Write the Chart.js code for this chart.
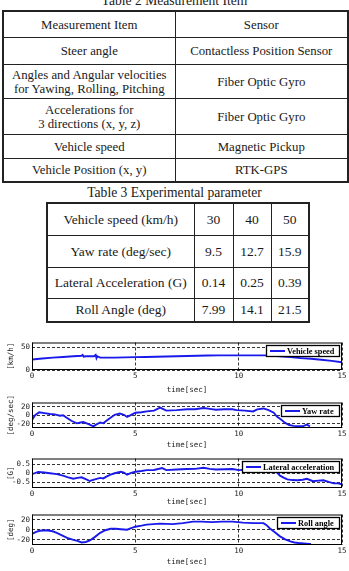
<!DOCTYPE html>
<html>
<head>
<meta charset="utf-8">
<script src="https://cdn.jsdelivr.net/npm/chart.js@4/dist/chart.umd.min.js"></script>
<style>
  body { margin: 0; width: 349px; height: 571px; overflow: hidden; background: #fff; position: relative;
         font-family: "Liberation Serif", "Times New Roman", serif; color: #1a1a1a; }
  .cap { position: absolute; left: 0; width: 349px; text-align: center; font-size: 13.6px; line-height: 14px; white-space: nowrap; }
  table { position: absolute; border-collapse: collapse; table-layout: fixed; }
  td { border: 1px solid #222; text-align: center; vertical-align: middle; padding: 0; white-space: pre-line; line-height: 14px; }
  #t2 { left: 2px; top: 10px; width: 345px; font-size: 12.8px; border: 2px solid #222; }
  #t2 tr:nth-child(1) td { height: 25px; }
  #t2 tr:nth-child(2) td { height: 26px; }
  #t2 tr:nth-child(3) td { height: 33px; }
  #t2 tr:nth-child(4) td { height: 35px; }
  #t2 tr:nth-child(5) td { height: 23px; }
  #t2 tr:nth-child(6) td { height: 22px; }
  #t3 { left: 46px; top: 202px; width: 262px; font-size: 13.5px; border: 2px solid #222; }
  #t3 tr:nth-child(1) td, #t3 tr:nth-child(2) td { height: 31px; }
  #t3 tr:nth-child(3) td { height: 30px; }
  #t3 tr:nth-child(4) td { height: 22px; }
  canvas { position: absolute; left: 0; }
</style>
</head>
<body>
<div class="cap" style="top:-6px">Table 2 Measurement Item</div>
<table id="t2"><colgroup><col style="width:172px"><col style="width:173px"></colgroup><tbody></tbody></table>
<div class="cap" style="top:186px">Table 3 Experimental parameter</div>
<table id="t3"><colgroup><col style="width:147px"><col style="width:39px"><col style="width:38px"><col style="width:38px"></colgroup><tbody></tbody></table>

<script>
// ---- table data ----
const table2Header = ['Measurement Item', 'Sensor'];
const table2Items = ['Steer angle', 'Angles and Angular velocities\nfor Yawing, Rolling, Pitching',
  'Accelerations for\n3 directions (x, y, z)', 'Vehicle speed', 'Vehicle Position (x, y)'];
const table2Sensors = ['Contactless Position Sensor', 'Fiber Optic Gyro', 'Fiber Optic Gyro',
  'Magnetic Pickup', 'RTK-GPS'];

const table3Params = ['Vehicle speed (km/h)', 'Yaw rate (deg/sec)', 'Lateral Acceleration (G)', 'Roll Angle (deg)'];
const table3Values = [['30', '40', '50'], ['9.5', '12.7', '15.9'], ['0.14', '0.25', '0.39'], ['7.99', '14.1', '21.5']];

// ---- chart data ----
const xTicks = [0, 5, 10, 15];

const speedTime = [0, 0.5, 1, 1.5, 2, 2.4, 2.45, 2.5, 2.6, 3, 3.08, 3.12, 3.16, 3.3, 4, 4.5, 5, 5.5, 6, 6.5, 7, 7.5, 8,
  8.5, 9, 9.5, 10, 10.5, 11, 11.4, 12, 12.5, 13, 13.5, 14, 14.5, 15];
const speedValue = [23, 25, 27, 28.5, 30, 31, 33, 29, 30, 30, 33, 26, 30, 27, 27, 27.5, 28, 28.5, 29, 29.5, 30, 30.5, 31,
  31.5, 32, 32, 32, 32, 32, 32, 30, 28, 26, 24.5, 22.5, 20, 17];

const yawTime = [0, 0.15, 0.35, 0.6, 0.87, 1.1, 1.35, 1.5, 1.68, 1.9, 2.17, 2.35, 2.48, 2.74, 2.97, 3.1, 3.3, 3.45, 3.6,
  3.8, 4.0, 4.25, 4.45, 4.6, 4.8, 5.0, 5.3, 5.55, 5.9, 6.2, 6.5, 7.0, 7.5, 7.9, 8.3, 8.6, 8.9, 9.3, 9.7, 9.9, 10.3,
  10.7, 10.9, 11.2, 11.45, 11.7, 11.85, 12.05, 12.25, 12.45, 12.65, 12.9, 13.1, 13.3, 13.45];
const yawValue = [-11, 0, 7, 5, 3, 2, -1, 0, -6, -13, -19, -17, -16, -21, -26, -22, -17, -19, -13,
  -6, 1, 4, 1, -4, 1, 6, 7, 9, 11, 18, 11, 12, 14, 14, 17, 15, 13, 14, 14, 12, 11,
  9, 14, 16, 12, 6, -3, -10, -18, -23, -25, -26, -26, -22, -26];

const latTime = [0, 0.3, 0.6, 0.87, 1.2, 1.5, 1.75, 2.0, 2.2, 2.4, 2.6, 2.8, 3.0, 3.3, 3.45, 3.6, 3.8, 4.0, 4.3, 4.45,
  4.6, 4.8, 5.0, 5.3, 5.55, 5.9, 6.3, 6.5, 7.0, 7.5, 7.9, 8.3, 8.6, 8.9, 9.3, 9.7, 10.0, 10.5, 11.0, 11.2, 11.5,
  11.7, 11.85, 12.0, 12.2, 12.35, 12.6, 12.85, 13.1, 13.3, 13.6, 13.85, 14.1, 14.35, 14.6, 14.8, 15];
const latValue = [-0.05, 0.07, 0.04, 0, -0.05, -0.13, -0.22, -0.3, -0.25, -0.22, -0.32, -0.42, -0.35, -0.25, -0.28,
  -0.18, -0.08, 0, 0.08, 0.03, -0.08, 0.02, 0.08, 0.12, 0.17, 0.18, 0.28, 0.17, 0.2, 0.23, 0.24, 0.3, 0.24, 0.2,
  0.22, 0.23, 0.17, 0.2, 0.22, 0.24, 0.2, 0.16, 0.05, -0.13, -0.25, -0.33, -0.37, -0.38, -0.35, -0.3, -0.43, -0.4,
  -0.38, -0.47, -0.55, -0.55, -0.6];

const rollTime = [0, 0.2, 0.37, 0.7, 1.0, 1.2, 1.45, 1.7, 2.0, 2.2, 2.4, 2.6, 2.8, 3.05, 3.3, 3.55, 3.8, 4.05, 4.3,
  4.6, 4.8, 5.0, 5.3, 5.55, 6.2, 6.8, 7.3, 7.8, 8.2, 8.7, 9.2, 9.7, 10.2, 10.7, 11.2, 11.35, 11.5, 11.75, 12.0,
  12.25, 12.5, 12.7, 12.9, 13.15, 13.4, 13.5];
const rollValue = [-8, -4, -2, -1, -3, -6, -11, -16, -20, -22, -25, -24, -21, -14, -6, -1, 2, 2, 1,
  0, 3, 6, 8, 10, 12, 11, 13, 16, 16, 15, 16, 16, 14, 13, 13, 9, 3, -5, -13,
  -19, -23, -25, -26, -27, -28, -28];

// ---- tables ----
const tb2 = document.querySelector('#t2 tbody');
[[table2Header[0], table2Header[1]]].concat(table2Items.map((it, i) => [it, table2Sensors[i]])).forEach(r => {
  const tr = document.createElement('tr');
  r.forEach(c => { const td = document.createElement('td'); td.textContent = c; tr.appendChild(td); });
  tb2.appendChild(tr);
});
const tb3 = document.querySelector('#t3 tbody');
table3Params.forEach((p, i) => {
  const tr = document.createElement('tr');
  [p].concat(table3Values[i]).forEach(c => { const td = document.createElement('td'); td.textContent = c; tr.appendChild(td); });
  tb3.appendChild(tr);
});

// ---- charts ----
const frameLegend = {
  id: 'frameLegend',
  afterDatasetsDraw(chart) {
    const { ctx, chartArea: a } = chart;
    ctx.save();
    ctx.strokeStyle = '#000';
    ctx.lineWidth = 1;
    ctx.strokeRect(a.left + 0.5, a.top + 0.5, a.width - 1, a.height - 1);
    const ds = chart.data.datasets[0];
    ctx.font = 'bold 8.3px "Liberation Serif"';
    const tw = ctx.measureText(ds.label).width;
    const w = Math.round(tw + 26), h = 11;
    const x = Math.round(a.right - 3 - w), y = Math.round(a.top + 2);
    ctx.fillStyle = '#fff';
    ctx.fillRect(x, y, w, h);
    ctx.lineWidth = 1.3;
    ctx.strokeRect(x + 0.5, y + 0.5, w, h);
    ctx.strokeStyle = ds.borderColor;
    ctx.lineWidth = 2;
    ctx.beginPath();
    ctx.moveTo(x + 4, y + h / 2 + 0.5);
    ctx.lineTo(x + 19, y + h / 2 + 0.5);
    ctx.stroke();
    ctx.fillStyle = '#000';
    ctx.textBaseline = 'middle';
    ctx.fillText(ds.label, x + 21, y + h / 2 + 1);
    ctx.restore();
  }
};

const tickFont = { family: '"DejaVu Sans Mono", monospace', size: 7.5 };

function makeChart(box, label, times, values, yMin, yMax, yTicks, yTitle) {
  const cv = document.createElement('canvas');
  cv.width = 349;
  cv.height = box.padTop + box.plotH + box.axisH;
  cv.style.top = box.top + 'px';
  document.body.appendChild(cv);
  new Chart(cv, {
    type: 'line',
    data: {
      datasets: [{
        label: label,
        data: times.map((t, i) => ({ x: t, y: values[i] })),
        borderColor: 'rgb(25,25,235)',
        borderWidth: 1.9,
        pointRadius: 0,
        tension: 0,
        fill: false
      }]
    },
    options: {
      responsive: false,
      animation: false,
      events: [],
      layout: { padding: { top: box.padTop, right: 7, left: 0, bottom: 0 } },
      plugins: { legend: { display: false }, tooltip: { enabled: false } },
      scales: {
        x: {
          type: 'linear', min: 0, max: 15,
          afterBuildTicks: s => { s.ticks = xTicks.map(v => ({ value: v })); },
          afterFit: s => { s.height = box.axisH; },
          ticks: { font: tickFont, color: '#222', padding: 2, maxRotation: 0 },
          grid: { color: '#000', lineWidth: 0.8, drawTicks: false },
          border: { display: false, dash: [3, 2] },
          title: { display: true, text: 'time[sec]', font: tickFont, color: '#222', padding: 0 }
        },
        y: {
          min: yMin, max: yMax,
          afterBuildTicks: s => { s.ticks = yTicks.map(v => ({ value: v })); },
          afterFit: s => { s.width = 32; },
          ticks: { font: tickFont, color: '#222', padding: 2 },
          grid: { color: '#000', lineWidth: 0.8, drawTicks: false },
          border: { display: false, dash: [3, 2] },
          title: { display: true, text: yTitle, font: tickFont, color: '#222', padding: { top: 7, bottom: 0 } }
        }
      }
    },
    plugins: [frameLegend]
  });
}

makeChart({ top: 336, padTop: 5, plotH: 29, axisH: 25 }, 'Vehicle speed', speedTime, speedValue, 0, 60, [0, 50], '[km/h]');
makeChart({ top: 396, padTop: 4, plotH: 28, axisH: 22 }, 'Yaw rate', yawTime, yawValue, -30, 30, [-20, 0, 20], '[deg/sec]');
makeChart({ top: 452, padTop: 5, plotH: 31, axisH: 19 }, 'Lateral acceleration', latTime, latValue, -0.8, 0.8, [-0.5, 0, 0.5], '[G]');
makeChart({ top: 508, padTop: 5, plotH: 32, axisH: 22 }, 'Roll angle', rollTime, rollValue, -30, 30, [-20, 0, 20], '[deg]');
</script>
</body>
</html>
